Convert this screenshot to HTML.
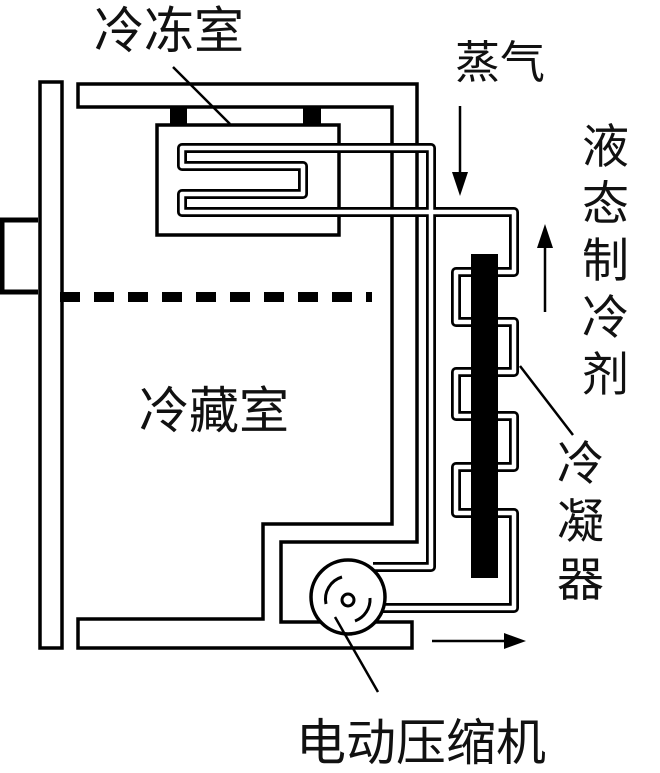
<!DOCTYPE html>
<html><head><meta charset="utf-8"><style>
html,body{margin:0;padding:0;background:#fff;width:660px;height:773px;overflow:hidden}
.t{font-family:"Liberation Sans","Noto Sans CJK SC",sans-serif;fill:#111}
</style></head><body>
<svg width="660" height="773" viewBox="0 0 660 773" xmlns="http://www.w3.org/2000/svg">
<g fill="none" stroke="#000" stroke-width="3.5">
  <rect x="40" y="82" width="22" height="566" fill="#fff"/>
  <path d="M38 220 H2 V292 H38" stroke-width="5"/>
  <path d="M78 84 H417 V542 H281 V622 H412 V648 H78 V619 H263 V524 H392 V107 H78 Z"/>
  <rect x="157" y="125" width="182" height="110"/>
</g>
<rect x="170" y="107" width="17" height="18" fill="#000"/>
<rect x="303" y="107" width="18" height="18" fill="#000"/>
<line x1="60" y1="297" x2="372" y2="297" stroke="#000" stroke-width="10" stroke-dasharray="20 14"/>
<g fill="none" stroke-linejoin="round">
  <path stroke="#000" stroke-width="10" d="M373 567 H431 V148 H182 V166 H303 V194 H182 V212 H514 V272 H456 V322 H514 V372 H456 V416 H514 V467 H456 V513 H514 V608 H380"/>
  <path stroke="#fff" stroke-width="4.5" d="M373 567 H431 V148 H182 V166 H303 V194 H182 V212 H514 V272 H456 V322 H514 V372 H456 V416 H514 V467 H456 V513 H514 V608 H380"/>
</g>
<rect x="471" y="254" width="27" height="324" fill="#000"/>
<circle cx="348" cy="597" r="37" fill="#fff" stroke="#000" stroke-width="3.5"/>
<circle cx="348" cy="600" r="6" fill="none" stroke="#000" stroke-width="3"/>
<path d="M326 604 A23 23 0 0 1 342 577" fill="none" stroke="#000" stroke-width="3"/>
<path d="M370 598 A23 23 0 0 1 355 621" fill="none" stroke="#000" stroke-width="3"/>
<g stroke="#000" stroke-width="2.5">
  <line x1="173" y1="67" x2="230" y2="124"/>
  <line x1="520" y1="366" x2="573" y2="435"/>
  <line x1="335" y1="617" x2="378" y2="692"/>
</g>
<g stroke="#000" stroke-width="2.5">
  <line x1="460" y1="106" x2="460" y2="180"/>
  <line x1="545" y1="312" x2="545" y2="240"/>
  <line x1="432" y1="641" x2="510" y2="641"/>
</g>
<polygon points="452,172 468,172 460,196" fill="#000"/>
<polygon points="537,248 553,248 545,224" fill="#000"/>
<polygon points="504,633 504,649 526,641" fill="#000"/>
<text class="t" x="94" y="48" font-size="50">冷冻室</text>
<text class="t" x="455" y="78" font-size="45">蒸气</text>
<g class="t" font-size="47">
  <text x="582" y="163">液</text>
  <text x="582" y="220">态</text>
  <text x="582" y="277">制</text>
  <text x="582" y="334">冷</text>
  <text x="582" y="391">剂</text>
  <text x="557" y="480">冷</text>
  <text x="557" y="538">凝</text>
  <text x="557" y="596">器</text>
</g>
<text class="t" x="139" y="428" font-size="50">冷藏室</text>
<text class="t" x="296" y="760" font-size="50">电动压缩机</text>
</svg>
</body></html>
